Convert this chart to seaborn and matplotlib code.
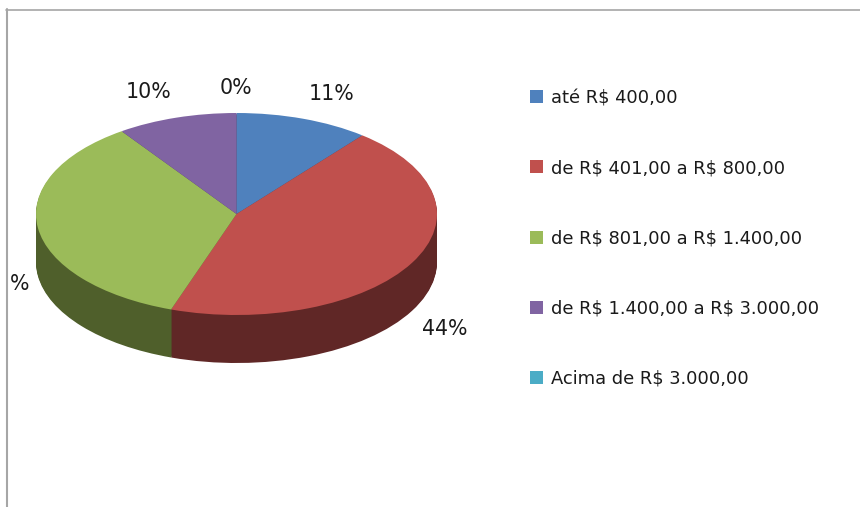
import matplotlib
matplotlib.use("Agg")
import matplotlib.pyplot as plt
from matplotlib.lines import Line2D
import seaborn as sns

# ---- data ----
categories = ["até R$ 400,00", "de R$ 401,00 a R$ 800,00", "de R$ 801,00 a R$ 1.400,00",
              "de R$ 1.400,00 a R$ 3.000,00", "Acima de R$ 3.000,00"]
shares = [10.8, 44.49, 35.0, 9.71, 0]
share_labels = ["11%", "44%", "%", "10%", "0%"]
top_colors = ["#4F81BD", "#C0504D", "#9BBB59", "#8064A2", "#4BACC6"]
side_colors = ["#2F4D71", "#602726", "#4F5F2B", "#4D3C61", "#2D6776"]

# ---- layout, in reference pixels ----
W, H = 860, 507
CX, CY, RX, RY, DEPTH = 236.5, 214, 200.5, 101, 48
label_pos = {"11%": (332, 94, "center"), "44%": (445, 329, "center"), "%": (29, 284, "right"),
             "10%": (149, 92, "center"), "0%": (236, 88, "center")}


def fx(x):
    return x / W


def fy(y):
    return 1 - y / H


sns.set_theme(style="white")
plt.rcParams["font.family"] = ["DejaVu Sans"]
plt.rcParams["text.parse_math"] = False
fig = plt.figure(figsize=(W / 100, H / 100), dpi=100, facecolor="white")
ax = fig.add_axes([0, 0, 1, 1])

top_palette = sns.color_palette(top_colors)
side_palette = sns.color_palette(side_colors)

# the rim: stacked pies, one per pixel of depth, from the bottom up
for d in range(DEPTH, 0, -1):
    ax.pie(shares, colors=side_palette, startangle=90, counterclock=False,
           center=(0, -d / RY), radius=1, wedgeprops={"linewidth": 0, "clip_on": False})
wedges, _ = ax.pie(shares, colors=top_palette, startangle=90, counterclock=False,
                   center=(0, 0), radius=1, wedgeprops={"linewidth": 0, "clip_on": False})

ax.set_aspect("auto")
ax.set_xlim(-CX / RX, (W - CX) / RX)
ax.set_ylim(-(H - CY) / RY, CY / RY)
ax.axis("off")

# data labels
for lab in share_labels:
    x, y, ha = label_pos[lab]
    fig.text(fx(x), fy(y), lab, ha=ha, va="center", fontsize=14.8, color="#1a1a1a")

# legend
leg = fig.legend(wedges, categories, loc="upper left", bbox_to_anchor=(fx(530), fy(89)),
                 frameon=False, fontsize=12.9, borderpad=0, borderaxespad=0,
                 handlelength=0.74, handleheight=0.74, handletextpad=0.44,
                 labelspacing=2.91, labelcolor="#1a1a1a")

# chart frame (only top and left are visible)
frame = "#a6a6a6"
fig.add_artist(Line2D([fx(7), fx(7)], [fy(9), 0], color=frame, lw=1.5))
fig.add_artist(Line2D([fx(6), 1], [fy(9.5), fy(9.5)], color=frame, lw=1.2))

fig.savefig("out.png", dpi=100, facecolor="white")
